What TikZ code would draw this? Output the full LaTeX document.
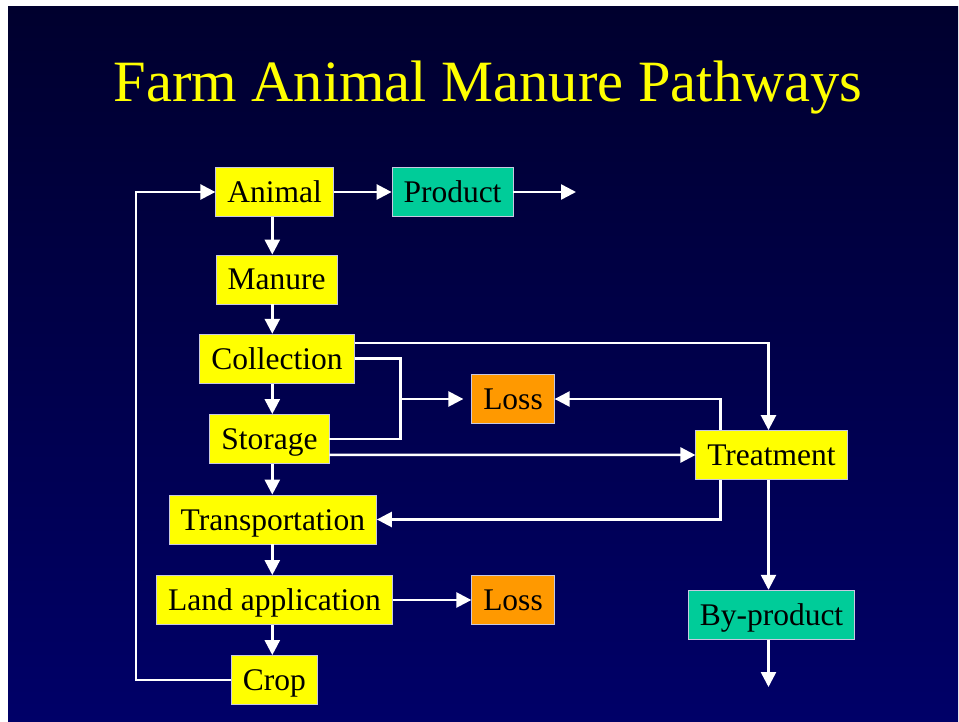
\documentclass[tikz,border=0pt]{standalone}
\usepackage{fontspec}
\setmainfont{Liberation Serif}
\usetikzlibrary{arrows.meta}

\definecolor{bgtop}{RGB}{0,0,46}
\definecolor{bgbot}{RGB}{0,0,104}
\definecolor{boxyellow}{RGB}{255,255,0}
\definecolor{boxgreen}{RGB}{0,204,153}
\definecolor{boxorange}{RGB}{255,153,0}
\definecolor{boxrim}{RGB}{200,200,225}
\definecolor{titleyellow}{RGB}{255,255,0}

\begin{document}
\begin{tikzpicture}[x=1pt,y=-1pt,>={Triangle[length=15pt,width=15pt]},line join=miter,
	box/.style={draw=boxrim,line width=0.8pt,fill=boxyellow,inner xsep=11.5pt,inner ysep=0pt,minimum height=49pt,text height=21pt,text depth=0pt,font=\fontsize{31.5}{36}\selectfont},
	gbox/.style={box,fill=boxgreen},
	obox/.style={box,fill=boxorange},
	flow/.style={->,draw=white,line width=2.5pt},
	heading/.style={anchor=base,font=\fontsize{58.5}{64}\selectfont}]
	
	\useasboundingbox (0,0) rectangle (959,722);
	\fill[white] (0,0) rectangle (959,722);
	\shade[top color=bgtop,bottom color=bgbot] (8,7) rectangle (958,722); % nền
	
	\node[heading,text=titleyellow] (title) at (488,102) {Farm Animal Manure Pathways};
	
	% các hộp
	\node[box] (animal) at (274.5,192) {Animal};
	\node[gbox] (product) at (452.5,192) {Product};
	\node[box] (manure) at (276.5,279.5) {Manure};
	\node[box] (collection) at (277,358.7) {Collection};
	\node[box] (storage) at (269.4,439) {Storage};
	\node[obox] (loss1) at (513,399) {Loss};
	\node[box] (treatment) at (771.5,455) {Treatment};
	\node[box] (transport) at (272.8,519.5) {Transportation};
	\node[box] (landapp) at (274.5,600) {Land application};
	\node[obox] (loss2) at (513,600) {Loss};
	\node[box] (crop) at (274.4,680) {Crop};
	\node[gbox] (byproduct) at (771.5,614.7) {By-product};
	
	\coordinate (spine) at (272.3,0);
	\coordinate (merge) at (400.5,399);
	\coordinate (loopback) at (136,400);
	\coordinate (prodout) at (576,192);
	\coordinate (byout) at (768.5,687);
	
	% trục chính
	\draw[flow] (animal.south -| spine) -- (manure.north -| spine);
	\draw[flow] (manure.south -| spine) -- (collection.north -| spine);
	\draw[flow] (collection.south -| spine) -- (storage.north -| spine);
	\draw[flow] (storage.south -| spine) -- (transport.north -| spine);
	\draw[flow] (transport.south -| spine) -- (landapp.north -| spine);
	\draw[flow] (landapp.south -| spine) -- (crop.north -| spine);
	
	\draw[flow] (animal.east) -- (product.west);
	\draw[flow] (product.east) -- (prodout);
	\draw[flow,-] (collection.east) -| (merge) |- (storage.east);
	\draw[flow,shorten >=8pt] (merge) -- (loss1.west);
	\draw[flow] ([yshift=-9pt]collection.north east) -| ([xshift=-3pt]treatment.north);
	\draw[flow] ([yshift=9pt]storage.south east) -- (treatment.west);
	\draw[flow] ([xshift=-51pt]treatment.north) |- (loss1.east);
	\draw[flow] ([xshift=-51pt]treatment.south) |- (transport.east);
	\draw[flow] ([xshift=-3pt]treatment.south) -- ([xshift=-3pt]byproduct.north);
	\draw[flow] ([xshift=-3pt]byproduct.south) -- (byout);
	\draw[flow] (landapp.east) -- (loss2.west);
	\draw[flow] (crop.west) -| (loopback) |- (animal.west); % quay lại
\end{tikzpicture}
\end{document}
